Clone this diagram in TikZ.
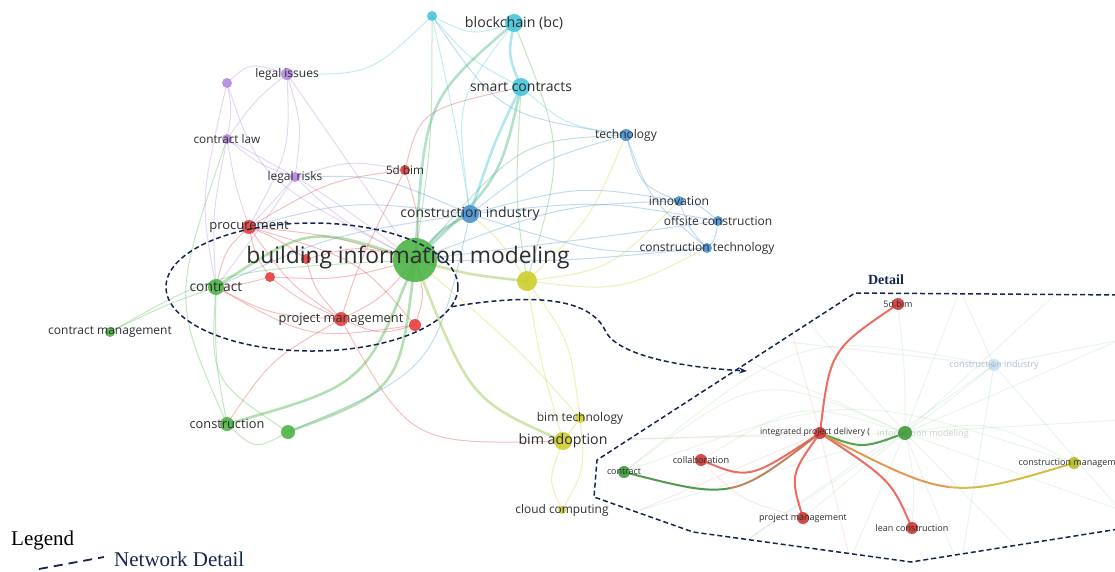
\documentclass[tikz,border=0pt]{standalone}
\usepackage{fontspec}
\setmainfont{Liberation Serif}
\newfontfamily\osans{Open Sans}
\usetikzlibrary{calc,shapes.geometric,arrows.meta}

\definecolor{cR}{RGB}{228,62,62}
\definecolor{cG}{RGB}{76,180,70}
\definecolor{cB}{RGB}{74,146,212}
\definecolor{cY}{RGB}{205,205,45}
\definecolor{cP}{RGB}{178,138,222}
\definecolor{cC}{RGB}{70,198,218}
\definecolor{navy}{RGB}{22,38,78}
\definecolor{lbl}{RGB}{45,45,45}
\definecolor{dred}{RGB}{236,92,80}
\definecolor{fadelbl}{RGB}{178,190,204}
\definecolor{fadegrn}{RGB}{200,214,200}

\tikzset{
  e/.style={line width=1pt, draw opacity=0.33},
  E/.style={line width=2.6pt, draw opacity=0.42},
  faint/.style={line width=1pt, draw opacity=0.12},
  dedge/.style={line width=2pt, draw opacity=0.9},
  dot/.style={circle, inner sep=0pt, fill opacity=0.9, draw=none},
  lab/.style={text=lbl, inner sep=0pt},
  navyline/.style={draw=navy, line width=1.5pt, dash pattern=on 5pt off 3pt},
}
\newcommand\vEd[5]{\draw[#4,draw=#5] (#1) .. controls (#3) .. (#2);}
\newcommand\vDot[3]{\node[dot,fill=#2,minimum size=#3pt] (n#1) at (#1) {};}
\newcommand\vLab[3]{\node[lab,font=\osans\fontsize{#2}{#2}\selectfont] (t#1) at (#1) {#3};}

\begin{document}
\begin{tikzpicture}[x=1pt,y=-1pt]
\useasboundingbox (0,0) rectangle (1115,571);

% ---------- main network coordinates
\coordinate (bim) at (415,260);
\coordinate (bcs) at (432,16);
\coordinate (bc) at (514,23);
\coordinate (sc) at (521,87);
\coordinate (tech) at (626,135);
\coordinate (innov) at (679,201);
\coordinate (offs) at (718,221);
\coordinate (ctech) at (707,248);
\coordinate (ci) at (470,214);
\coordinate (bimf) at (405,170);
\coordinate (li) at (287,74);
\coordinate (pur) at (227,83);
\coordinate (cl) at (227,139);
\coordinate (lr) at (295,177);
\coordinate (proc) at (249,227);
\coordinate (ra) at (270,277);
\coordinate (rb) at (306,259);
\coordinate (contr) at (216,287);
\coordinate (cm) at (110,332);
\coordinate (pm) at (341,319);
\coordinate (rc) at (415,325);
\coordinate (yel) at (527,281);
\coordinate (cons) at (227,424);
\coordinate (gb) at (288,432);
\coordinate (bimt) at (580,418);
\coordinate (bima) at (563,441);
\coordinate (cc) at (562,510);

% ---------- main network edges
% cyan
\vEd{bcs}{bc}{472,36}{e}{cC}
\vEd{bcs}{li}{370,75}{e}{cC}
\vEd{bcs}{sc}{470,60}{e}{cC}
\vEd{bcs}{bim}{432,140}{e}{cG}
\vEd{bcs}{ci}{455,120}{e}{cC}
\vEd{bcs}{tech}{500,115}{e}{cB}
\vEd{bc}{sc}{508,55}{E}{cC}
\vEd{bc}{bim}{425,100}{E}{cG!60!cC}
\vEd{bc}{ci}{455,100}{e}{cC}
\vEd{bc}{yel}{565,150}{e}{cG}
\vEd{sc}{ci}{495,140}{E}{cC}
\vEd{sc}{bim}{500,180}{E}{cG!60!cC}
\vEd{sc}{tech}{565,125}{e}{cC}
\vEd{sc}{bimf}{420,110}{e}{cR}
\vEd{sc}{yel}{515,200}{e}{cG}
% blue
\vEd{tech}{ci}{540,160}{e}{cB}
\vEd{tech}{innov}{640,185}{e}{cB}
\vEd{tech}{ctech}{650,200}{e}{cB}
\vEd{tech}{bim}{520,140}{e}{cG!50!cB}
\vEd{innov}{offs}{700,205}{e}{cB}
\vEd{innov}{ctech}{690,230}{e}{cB}
\vEd{offs}{ctech}{715,240}{e}{cB}
\vEd{innov}{ci}{580,185}{e}{cB}
\vEd{innov}{bim}{560,205}{e}{cB}
\vEd{offs}{ci}{600,200}{e}{cB}
\vEd{offs}{bim}{580,240}{e}{cB}
\vEd{ctech}{bim}{560,262}{e}{cB}
\vEd{ctech}{ci}{600,255}{e}{cB}
\vEd{ctech}{yel}{620,292}{e}{cY}
\vEd{innov}{yel}{610,270}{e}{cY}
\vEd{tech}{yel}{590,220}{e}{cY}
\vEd{ci}{bim}{440,230}{E}{cG!60!cB}
\vEd{ci}{lr}{380,175}{e}{cB}
\vEd{ci}{proc}{350,200}{e}{cB}
\vEd{ci}{contr}{330,235}{e}{cB}
\vEd{ci}{gb}{435,370}{e}{cB}
% purple
\vEd{pur}{li}{250,62}{e}{cP}
\vEd{pur}{cl}{232,110}{e}{cP}
\vEd{li}{cl}{255,100}{e}{cP}
\vEd{li}{lr}{302,125}{e}{cP}
\vEd{li}{bim}{340,150}{e}{cP}
\vEd{li}{proc}{290,150}{e}{cP}
\vEd{cl}{lr}{260,165}{e}{cP}
\vEd{cl}{proc}{235,185}{e}{cP}
\vEd{cl}{contr}{212,215}{e}{cP}
\vEd{cl}{bim}{320,190}{e}{cP}
\vEd{cl}{cons}{172,300}{e}{cG}
\vEd{lr}{bimf}{350,160}{e}{cP}
\vEd{lr}{proc}{270,205}{e}{cP}
\vEd{lr}{bim}{340,220}{e}{cP}
\vEd{lr}{contr}{255,235}{e}{cP}
\vEd{pur}{contr}{200,200}{e}{cP}
\vEd{pur}{bim}{260,180}{e}{cP}
% red
\vEd{bimf}{bim}{420,220}{e}{cR}
\vEd{bimf}{proc}{330,180}{e}{cR}
\vEd{bimf}{pm}{360,260}{e}{cR}
\vEd{proc}{bim}{330,235}{e}{cR}
\vEd{proc}{pm}{290,285}{e}{cR}
\vEd{proc}{contr}{225,250}{e}{cR}
\vEd{proc}{ra}{255,255}{e}{cR}
\vEd{proc}{rc}{360,260}{e}{cR}
\vEd{proc}{rb}{280,240}{e}{cR}
\vEd{pm}{bim}{380,300}{e}{cR}
\vEd{pm}{rc}{380,335}{e}{cR}
\vEd{pm}{contr}{270,315}{e}{cR}
\vEd{pm}{ra}{300,300}{e}{cR}
\vEd{ra}{bim}{340,280}{e}{cR}
\vEd{rb}{bim}{360,245}{e}{cR}
\vEd{rc}{bim}{425,295}{e}{cR}
\vEd{contr}{ra}{240,285}{e}{cR}
\vEd{pm}{bima}{410,445}{e}{cR}
\vEd{pm}{cons}{270,360}{e}{cR}
\vEd{rc}{contr}{310,340}{e}{cR}
\vEd{rb}{pm}{315,290}{e}{cR}
% green / yellow
\vEd{bim}{contr}{310,225}{E}{cG}
\vEd{bim}{cons}{365,385}{E}{cG}
\vEd{bim}{gb}{400,390}{E}{cG}
\vEd{bim}{cm}{220,270}{e}{cG}
\vEd{contr}{cm}{165,305}{e}{cG}
\vEd{contr}{cons}{215,360}{e}{cG}
\vEd{contr}{gb}{210,380}{e}{cG}
\vEd{cons}{gb}{255,450}{e}{cG}
\vEd{bim}{bima}{470,400}{E}{cG!50!cY}
\vEd{bim}{yel}{470,275}{E}{cG!50!cY}
\vEd{bim}{bimt}{520,350}{e}{cY}
\vEd{yel}{bima}{540,360}{e}{cY}
\vEd{yel}{bimt}{570,340}{e}{cY}
\vEd{bima}{bimt}{575,425}{e}{cY}
\vEd{bima}{cc}{548,480}{e}{cY}
\vEd{bimt}{cc}{585,470}{e}{cY}
\vEd{yel}{ci}{500,240}{e}{cY}

% ---------- detail coordinates
\coordinate (dfive) at (898,304);
\coordinate (dipd) at (820,433);
\coordinate (dg) at (905,433);
\coordinate (dcoll) at (701,460);
\coordinate (dcon) at (624,472);
\coordinate (dcmg) at (1074,463);
\coordinate (dpm) at (803,518);
\coordinate (dlean) at (912,528);
\coordinate (dci) at (994,365);
\coordinate (pa) at (1125,295);
\coordinate (pb) at (855,293);
\coordinate (pc) at (597,460);
\coordinate (pd) at (594,497);
\coordinate (pe) at (693,532);
\coordinate (pf) at (911,562);
\coordinate (pg) at (1125,528);
\coordinate (fa) at (600,440);
\coordinate (fb) at (680,330);
\coordinate (fc) at (780,290);
\coordinate (fd) at (960,290);
\coordinate (fe) at (1060,290);
\coordinate (ff) at (1120,340);
\coordinate (fg) at (1120,420);
\coordinate (fh) at (1120,510);
\coordinate (fi) at (1030,560);
\coordinate (fj) at (960,570);
\coordinate (fk) at (850,560);
\coordinate (fl) at (740,545);
\coordinate (fm) at (640,510);
\coordinate (mA) at (730.25,488.1);
\coordinate (mB) at (949.25,487);

% faint background of detail
\begin{scope}
\clip (pa) -- (pb) -- (pc) -- (pd) -- (pe) -- (pf) -- (pg) -- cycle;
\foreach \f in {fa,fb,fc,fd,fe,ff,fg,fh,fi,fj,fk,fl,fm}
  {\draw[faint,draw=cG] (dg) -- (\f);}
\foreach \f in {fb,fd,ff,fh,fj,fl}
  {\draw[faint,draw=cB] (dci) -- (\f);}
\foreach \f in {fa,fc,fk,fm}
  {\draw[faint,draw=cR] (dipd) -- (\f);}
\vEd{dcon}{dg}{760,370}{faint}{cG}
\vEd{dcoll}{dg}{800,400}{faint}{cG}
\vEd{dcon}{dcmg}{850,390}{faint}{cG}
\vEd{dfive}{dg}{905,370}{faint}{cG}
\vEd{dci}{dg}{950,400}{faint}{cG}
\vEd{dpm}{dg}{860,470}{faint}{cG}
\vEd{dlean}{dg}{915,480}{faint}{cG}
\vEd{dcmg}{dg}{990,420}{faint}{cG}
\vEd{dcon}{dci}{800,330}{faint}{cG}
\vEd{dpm}{dcoll}{740,500}{faint}{cR}
\end{scope}

% strong edges of detail
\vEd{dfive}{dipd}{830,350}{dedge}{dred}
\vEd{dipd}{dcoll}{749,480}{dedge}{dred}
\vEd{dipd}{dpm}{790,475}{dedge}{dred}
\vEd{dipd}{dlean}{891,480}{dedge}{dred}
\vEd{dipd}{dg}{862,449}{dedge}{cG!85!black}
\draw[dedge,draw=dred!70!cG] (dipd) .. controls (776.5,466.5) and (754.75,483.25) .. (mA);
\draw[dedge,draw=cG!80!black] (mA) .. controls (705.75,493) and (678.5,486) .. (dcon);
\draw[dedge,draw=dred!55!cY] (dipd) .. controls (885,466.5) and (917.5,483.25) .. (mB);
\draw[dedge,draw=cY!80!dred] (mB) .. controls (981,490.75) and (1012,481.5) .. (dcmg);

% ---------- main nodes
\vDot{bim}{cG}{44}
\vDot{bcs}{cC}{10}
\vDot{bc}{cC}{18}
\vDot{sc}{cC}{18}
\vDot{tech}{cB}{12}
\vDot{innov}{cB}{10}
\vDot{offs}{cB}{10}
\vDot{ctech}{cB}{10}
\vDot{ci}{cB}{18}
\vDot{bimf}{cR}{10}
\vDot{li}{cP}{12}
\vDot{pur}{cP}{10}
\vDot{cl}{cP}{10}
\vDot{lr}{cP}{10}
\vDot{proc}{cR}{14}
\vDot{ra}{cR}{10}
\vDot{rb}{cR}{10}
\vDot{contr}{cG}{16}
\vDot{cm}{cG}{10}
\vDot{pm}{cR}{14}
\vDot{rc}{cR}{12}
\vDot{yel}{cY}{20}
\vDot{cons}{cG}{14}
\vDot{gb}{cG}{14}
\vDot{bimt}{cY}{10}
\vDot{bima}{cY}{18}
\vDot{cc}{cY}{8}

% ---------- main labels
\node[lab,font=\osans\fontsize{22.8}{22.8}\selectfont] (tbim) at (408,258) {building information modeling};
\vLab{bc}{14.2}{blockchain (bc)}
\vLab{sc}{14}{smart contracts}
\vLab{tech}{12}{technology}
\vLab{innov}{12.2}{innovation}
\vLab{offs}{12}{offsite construction}
\vLab{ctech}{12}{construction technology}
\vLab{ci}{14}{construction industry}
\vLab{bimf}{11.7}{5d bim}
\vLab{li}{12}{legal issues}
\vLab{cl}{11.8}{contract law}
\vLab{lr}{12}{legal risks}
\vLab{proc}{13}{procurement}
\vLab{contr}{13.8}{contract}
\vLab{cm}{12}{contract management}
\vLab{pm}{12.8}{project management}
\vLab{cons}{12.8}{construction}
\vLab{bimt}{12}{bim technology}
\vLab{bima}{14.2}{bim adoption}
\vLab{cc}{11.9}{cloud computing}

% ---------- detail nodes and labels
\node[dot,fill=cB,fill opacity=0.25,minimum size=12pt] (ndci) at (dci) {};
\node[lab,text=fadelbl,font=\osans\fontsize{9}{9}\selectfont] (tdci) at (dci) {construction industry};
\node[lab,text=fadegrn,anchor=west,font=\osans\fontsize{9}{9}\selectfont] (tdg) at (877,434) {information modeling};
\node[dot,fill=cG!85!black,minimum size=14pt] (ndg) at (dg) {};
\node[dot,fill=cR!90!black,minimum size=12pt] (ndfive) at (dfive) {};
\node[dot,fill=cR!90!black,minimum size=12pt] (ndipd) at (dipd) {};
\node[dot,fill=cR!90!black,minimum size=12pt] (ndcoll) at (dcoll) {};
\node[dot,fill=cG!85!black,minimum size=12pt] (ndcon) at (dcon) {};
\node[dot,fill=cY!90!black,minimum size=12pt] (ndcmg) at (dcmg) {};
\node[dot,fill=cR!90!black,minimum size=12pt] (ndpm) at (dpm) {};
\node[dot,fill=cR!90!black,minimum size=12pt] (ndlean) at (dlean) {};
\vLab{dfive}{9}{5d bim}
\node[lab,font=\osans\fontsize{8.6}{8.6}\selectfont] (tdipd) at (815,432) {integrated project delivery (};
\vLab{dcoll}{9.2}{collaboration}
\vLab{dcon}{8.9}{contract}
\vLab{dcmg}{9}{construction management}
\vLab{dpm}{9}{project management}
\vLab{dlean}{9}{lean construction}

% ---------- ellipse, detail outline, arrow
\node[ellipse, navyline, minimum width=292pt, minimum height=128pt, inner sep=0pt] (ell) at (312,287) {};
\draw[navyline] (pa) -- (pb) -- (pc) -- (pd) -- (pe) -- (pf) -- (pg);
\coordinate (arrEnd) at (747,371);
\draw[navyline, -{Stealth[length=8pt,width=6pt]}] (ell.-8) .. controls (540,292) and (590,300) .. (605,330) .. controls (613,350) and (660,366) .. (arrEnd);
\node[font=\bfseries\fontsize{14}{14}\selectfont, text=navy, inner sep=0pt] (detl) at (886,280) {Detail};

% ---------- legend
\node[anchor=base west, inner sep=0pt, font=\fontsize{21}{21}\selectfont] (leg) at (11,545) {Legend};
\coordinate (la) at (39,569);
\coordinate (lb) at (104,557);
\draw[draw=navy, line width=1.8pt, dash pattern=on 9pt off 6pt] (la) -- (lb);
\node[anchor=base west, inner sep=0pt, text=navy, font=\fontsize{21}{21}\selectfont] (ndet) at (114,566) {Network Detail};
\end{tikzpicture}
\end{document}
